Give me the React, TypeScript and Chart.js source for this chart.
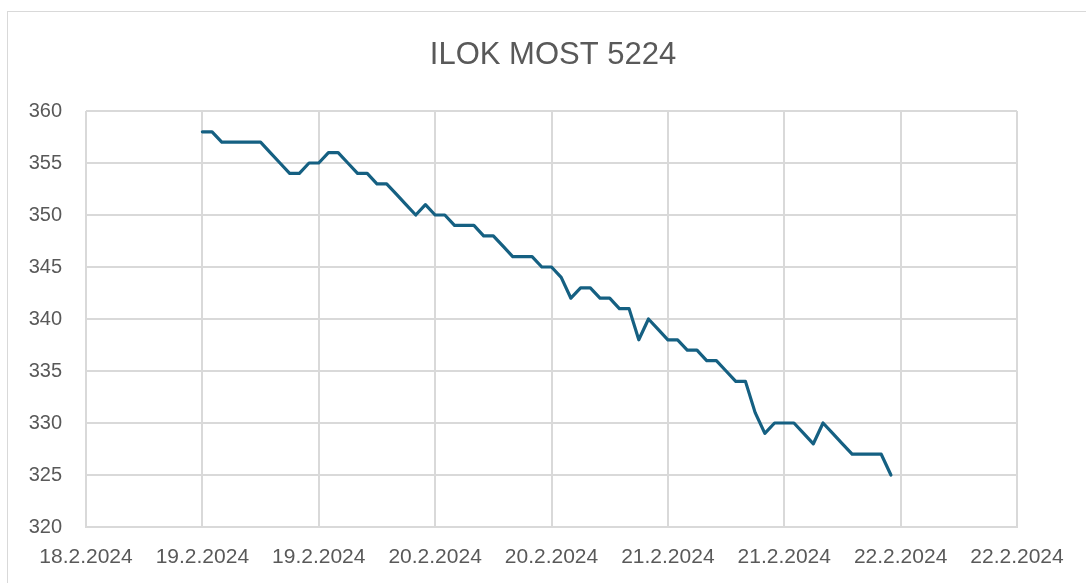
import { useEffect, useRef } from "react";
import { Chart, registerables } from "chart.js";

Chart.register(...registerables);

const chartTitle = "ILOK MOST 5224";

// hourly water levels, starting 19.2.2024 00:00
const levels = [
  358, 358, 357, 357, 357, 357, 357, 356, 355, 354, 354, 355,
  355, 356, 356, 355, 354, 354, 353, 353, 352, 351, 350, 351,
  350, 350, 349, 349, 349, 348, 348, 347, 346, 346, 346, 345,
  345, 344, 342, 343, 343, 342, 342, 341, 341, 338, 340, 339,
  338, 338, 337, 337, 336, 336, 335, 334, 334, 331, 329, 330,
  330, 330, 329, 328, 330, 329, 328, 327, 327, 327, 327, 325,
];

const xTickLabels = [
  "18.2.2024",
  "19.2.2024",
  "19.2.2024",
  "20.2.2024",
  "20.2.2024",
  "21.2.2024",
  "21.2.2024",
  "22.2.2024",
  "22.2.2024",
];

const yMin = 320;
const yMax = 360;
const yStep = 5;
const xMinHour = -12;
const xMaxHour = 84;
const xStepHours = 12;

const FONT = '"Liberation Sans", Arial, sans-serif';
const TEXT = "#595959";
const GRID = "#d9d9d9";

export default function App() {
  const ref = useRef<HTMLCanvasElement>(null);

  useEffect(() => {
    if (!ref.current) return;
    const titlePlugin = {
      id: "fixedTitle",
      afterDraw(chart: any) {
        const { ctx } = chart;
        ctx.save();
        ctx.font = `31px ${FONT}`;
        ctx.fillStyle = TEXT;
        ctx.textAlign = "center";
        ctx.textBaseline = "middle";
        ctx.fillText(chartTitle, 545, 43);
        ctx.restore();
      },
    };
    const chart = new Chart(ref.current, {
      type: "line",
      data: {
        datasets: [
          {
            label: chartTitle,
            data: levels.map((v, i) => ({ x: i, y: v })),
            borderColor: "#156082",
            backgroundColor: "#156082",
            borderWidth: 3.2,
            pointRadius: 0,
            tension: 0,
            borderJoinStyle: "round",
            borderCapStyle: "round",
          },
        ],
      },
      options: {
        responsive: false,
        animation: false,
        layout: { padding: { top: 99, right: 69, left: 0, bottom: 0 } },
        plugins: {
          legend: { display: false },
          title: { display: false },
          tooltip: { enabled: false },
        },
        scales: {
          x: {
            type: "linear",
            min: xMinHour,
            max: xMaxHour,
            afterFit: (s: any) => {
              s.height = 56;
            },
            ticks: {
              stepSize: xStepHours,
              autoSkip: false,
              maxRotation: 0,
              padding: 18,
              color: TEXT,
              font: { family: FONT, size: 21 },
              callback: (value: any) => {
                const idx = Math.round((Number(value) - xMinHour) / xStepHours);
                return xTickLabels[idx] ?? "";
              },
            },
            grid: { color: GRID, lineWidth: 2, drawTicks: false },
            border: { color: GRID, width: 2 },
          },
          y: {
            min: yMin,
            max: yMax,
            afterFit: (s: any) => {
              s.width = 78;
            },
            ticks: {
              stepSize: yStep,
              padding: 24,
              color: TEXT,
              font: { family: FONT, size: 20 },
            },
            grid: { color: GRID, lineWidth: 2, drawTicks: false },
            border: { display: false },
          },
        },
      },
      plugins: [titlePlugin],
    });
    return () => chart.destroy();
  }, []);

  return (
    <div
      style={{
        position: "fixed",
        left: 7,
        top: 11,
        width: 1100,
        height: 600,
        border: "1px solid #d9d9d9",
        background: "#fff",
      }}
    >
      <canvas ref={ref} width={1078} height={571} style={{ display: "block" }} />
    </div>
  );
}
